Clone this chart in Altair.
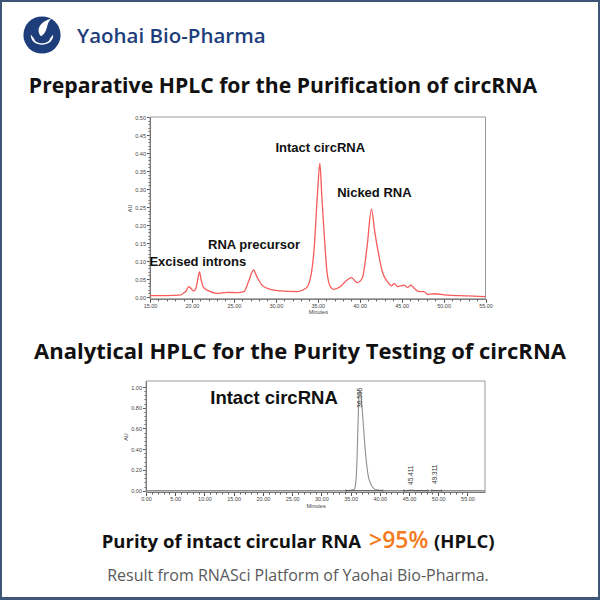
import altair as alt
import pandas as pd

# ---------------- data ----------------
# Preparative HPLC trace (minutes, AU)
prep_minutes = [15.0, 17.0, 18.5, 18.8, 19.0, 19.3, 19.6, 19.8, 20.2, 20.4, 20.65, 20.9, 21.1, 21.4, 22.0,
                23.0, 24.2, 25.4, 26.2, 26.75, 27.35, 27.75, 28.35, 29.35, 30.5, 32.6, 33.6, 34.2, 34.6,
                35.0, 35.25, 35.5, 35.8, 36.1, 36.5, 36.9, 37.7, 38.3, 39.0, 39.7, 40.3, 40.9, 41.4, 41.8,
                42.2, 42.7, 43.3, 43.8, 44.1, 44.5, 45.3, 45.7, 46.1, 46.5, 47.1, 47.7, 48.1, 48.9, 50.1,
                52.9, 55.0]
prep_au = [0.004, 0.004, 0.005, 0.007, 0.011, 0.016, 0.029, 0.026, 0.017, 0.02, 0.043, 0.07, 0.047, 0.026,
           0.017, 0.010, 0.013, 0.012, 0.015, 0.043, 0.075, 0.056, 0.033, 0.021, 0.017, 0.015, 0.024,
           0.061, 0.144, 0.30, 0.371, 0.274, 0.163, 0.07, 0.029, 0.021, 0.029, 0.043, 0.054, 0.040, 0.052,
           0.144, 0.244, 0.181, 0.126, 0.07, 0.043, 0.031, 0.038, 0.029, 0.033, 0.026, 0.033, 0.024,
           0.015, 0.015, 0.007, 0.009, 0.006, 0.003, 0.001]

prep_labels = ["Intact circRNA", "Nicked RNA", "RNA precursor", "Excised introns"]
prep_label_min = [35.3, 41.75, 27.4, 20.7]
prep_label_au = [0.414, 0.289, 0.144, 0.097]

# Analytical HPLC trace
ana_minutes = [0, 10, 20, 30, 34.5, 35.6, 35.9, 36.1, 36.3, 36.45, 36.555, 36.7, 36.9, 37.1, 37.4, 37.7,
               38.0, 38.4, 38.9, 39.5, 40.5, 44.5, 45.411, 46.2, 48.8, 49.311, 49.9, 52, 58]
ana_au = [0, 0, 0, 0, 0, 0.01, 0.08, 0.3, 0.7, 0.92, 0.97, 0.95, 0.85, 0.7, 0.47, 0.28, 0.15, 0.07,
          0.025, 0.008, 0, 0, 0.006, 0, 0, 0.004, 0, 0, 0]

peak_names = ["36.555", "45.411", "49.311"]
peak_min = [36.555, 45.3, 49.4]
peak_label_au = [0.80, 0.055, 0.065]

baseline_start = [34.2, 44.1, 48.9]
baseline_end = [40.5, 48.2, 50.6]

X1_DOMAIN = [15, 55]
Y1_DOMAIN = [-0.005, 0.5]
X2_DOMAIN = [0, 58]
Y2_DOMAIN = [-0.013, 1.058]

prep_ticks_x = list(range(15, 56))
prep_ticks_y = [round(i * 0.01, 2) for i in range(0, 51)]
ana_ticks_x = list(range(0, 56))
ana_ticks_y = [round(i * 0.04, 2) for i in range(0, 26)]

# ---------------- helpers ----------------
AXIS_GREY = "#555555"
LBL = dict(labelFont="Liberation Sans", labelFontSize=5.5, labelColor="#444444",
           titleFont="Liberation Sans", titleFontSize=5.5, titleFontWeight="normal",
           titleColor="#444444", domainColor=AXIS_GREY, tickColor=AXIS_GREY,
           grid=False, labelOverlap=False, labelFlush=False)


def x_axis(values, offset):
    return alt.Axis(values=values, orient="bottom", offset=offset, title="Minutes",
                    labelExpr="datum.value % 5 === 0 ? format(datum.value, '.2f') : ''",
                    tickSize={"condition": {"test": "datum.value % 5 === 0", "value": 3.5}, "value": 2},
                    labelPadding=1, titlePadding=1, **LBL)


def y_axis(values, offset, every):
    return alt.Axis(values=values, orient="left", offset=offset, title="AU",
                    labelExpr=f"round(datum.value*100) % {every} === 0 ? format(datum.value, '.2f') : ''",
                    tickSize={"condition": {"test": f"round(datum.value*100) % {every} === 0", "value": 3.5},
                              "value": 2},
                    labelPadding=1, titlePadding=2, **LBL)


def txt(s, x, y, size, color="#111111", weight="bold", font="Open Sans", align="center", **kw):
    return alt.Chart(pd.DataFrame({"s": [s]})).mark_text(
        x=x, y=y, fontSize=size, color=color, fontWeight=weight, font=font, align=align,
        baseline="middle", **kw).encode(text="s:N")


# ---------------- chart 1 (preparative) ----------------
x1s = alt.Scale(domain=X1_DOMAIN, range=[150, 485.5], nice=False, zero=False)
y1s = alt.Scale(domain=Y1_DOMAIN, range=[298.8, 117], nice=False, zero=False)
ax1x = x_axis(prep_ticks_x, 298.8 - 600)
ax1y = y_axis(prep_ticks_y, -150, 5)

prep_df = pd.DataFrame({"m": prep_minutes, "au": prep_au})
frame1_df = pd.DataFrame({"x0": [X1_DOMAIN[0]], "x1": [X1_DOMAIN[1]], "y0": [Y1_DOMAIN[0]], "y1": [Y1_DOMAIN[1]]})
lab1_df = pd.DataFrame({"m": prep_label_min, "au": prep_label_au, "name": prep_labels})

frame1 = alt.Chart(frame1_df).mark_rect(fill=None, stroke="#9a9a9a", strokeWidth=1).encode(
    x=alt.X("x0:Q", scale=x1s, axis=ax1x), x2="x1:Q",
    y=alt.Y("y0:Q", scale=y1s, axis=ax1y), y2="y1:Q")
line1 = alt.Chart(prep_df).mark_line(color="#f75b5b", strokeWidth=1.3, interpolate="monotone").encode(
    x=alt.X("m:Q", scale=x1s, axis=ax1x), y=alt.Y("au:Q", scale=y1s, axis=ax1y))
labels1 = alt.Chart(lab1_df).mark_text(font="Liberation Sans", fontWeight="bold", fontSize=13,
                                       color="#111111").encode(
    x=alt.X("m:Q", scale=x1s, axis=ax1x), y=alt.Y("au:Q", scale=y1s, axis=ax1y), text="name:N")
c1 = alt.layer(frame1, line1, labels1)

# ---------------- chart 2 (analytical) ----------------
x2s = alt.Scale(domain=X2_DOMAIN, range=[146, 485], nice=False, zero=False)
y2s = alt.Scale(domain=Y2_DOMAIN, range=[492, 381], nice=False, zero=False)
ax2x = x_axis(ana_ticks_x, 492 - 600)
ax2y = y_axis(ana_ticks_y, -146, 20)

ana_df = pd.DataFrame({"m": ana_minutes, "au": ana_au})
frame2_df = pd.DataFrame({"x0": [X2_DOMAIN[0]], "x1": [X2_DOMAIN[1]], "y0": [Y2_DOMAIN[0]], "y1": [Y2_DOMAIN[1]]})
peaks_df = pd.DataFrame({"m": peak_min, "au": peak_label_au, "name": peak_names})
base_df = pd.DataFrame({"s": baseline_start, "e": baseline_end, "au": [0.0] * 3})
base_pts = pd.DataFrame({"m": baseline_start + baseline_end, "au": [0.0] * 6})
main_lab = pd.DataFrame({"m": [21.9], "au": [0.894], "name": ["Intact circRNA"]})

frame2 = alt.Chart(frame2_df).mark_rect(fill=None, stroke="#9a9a9a", strokeWidth=1).encode(
    x=alt.X("x0:Q", scale=x2s, axis=ax2x), x2="x1:Q",
    y=alt.Y("y0:Q", scale=y2s, axis=ax2y), y2="y1:Q")
line2 = alt.Chart(ana_df).mark_line(color="#8f8f8f", strokeWidth=1.1, interpolate="monotone").encode(
    x=alt.X("m:Q", scale=x2s, axis=ax2x), y=alt.Y("au:Q", scale=y2s, axis=ax2y))
base2 = alt.Chart(base_df).mark_rule(color="#555555", strokeWidth=1).encode(
    x=alt.X("s:Q", scale=x2s, axis=ax2x), x2="e:Q", y=alt.Y("au:Q", scale=y2s, axis=ax2y))
basepts = alt.Chart(base_pts).mark_tick(color="#555555", size=3, thickness=1, orient="vertical").encode(
    x=alt.X("m:Q", scale=x2s, axis=ax2x), y=alt.Y("au:Q", scale=y2s, axis=ax2y))
peaklab = alt.Chart(peaks_df).mark_text(font="Liberation Sans", fontSize=6.5, color="#333333",
                                        angle=270, align="left", baseline="middle").encode(
    x=alt.X("m:Q", scale=x2s, axis=ax2x), y=alt.Y("au:Q", scale=y2s, axis=ax2y), text="name:N")
mainlab = alt.Chart(main_lab).mark_text(font="Liberation Sans", fontWeight="bold", fontSize=18.5,
                                        color="#111111").encode(
    x=alt.X("m:Q", scale=x2s, axis=ax2x), y=alt.Y("au:Q", scale=y2s, axis=ax2y), text="name:N")
c2 = alt.layer(frame2, line2, base2, basepts, peaklab, mainlab)

# ---------------- header / texts ----------------
NAVY = "#1d3e7b"
logo_df = pd.DataFrame({"k": [0]})
logo_circle = alt.Chart(logo_df).mark_circle(x=42, y=35, size=1385, color=NAVY, opacity=1)
logo_hands = alt.Chart(logo_df).mark_point(
    x=42, y=38, size=1150, filled=True, color="white", opacity=1,
    shape="M -0.66 -0.2 C -0.7 0.6 0.7 0.6 0.66 -0.2 L 0.46 0.05 C 0.42 0.4 -0.42 0.4 -0.46 0.05 Z")
logo_leaf = alt.Chart(logo_df).mark_point(
    x=44, y=30, size=800, filled=True, color="white", opacity=1,
    shape="M -0.2 0.45 C -0.6 0.0 -0.3 -0.6 0.5 -0.8 C 0.1 -0.4 0.35 0.05 -0.2 0.45 Z")

brand = txt("Yaohai Bio-Pharma", 77, 37, 20.5, color=NAVY, weight=600, align="left")
title1 = txt("Preparative HPLC for the Purification of circRNA", 283, 87, 21.2)
title2 = txt("Analytical HPLC for the Purity Testing of circRNA", 300, 352, 22)
purity_a = txt("Purity of intact circular RNA", 361, 542, 18.5, align="right")
purity_b = txt(">95%", 369, 541, 23, color="#f47b20", weight=600, align="left")
purity_c = txt("(HPLC)", 434, 542, 18.5, align="left")
footer = txt("Result from RNASci Platform of Yaohai Bio-Pharma.", 298, 576, 16, color="#5a5a5a",
             weight="normal")
bottom_edge = alt.Chart(logo_df).mark_rule(color="#3f5677", strokeWidth=3).encode(
    x=alt.value(0), x2=alt.value(600), y=alt.value(598.5))

chart = alt.layer(
    c1, c2, logo_circle, logo_hands, logo_leaf, brand, title1, title2,
    purity_a, purity_b, purity_c, footer, bottom_edge
).resolve_scale(x="independent", y="independent").properties(
    width=600, height=600, padding=0, autosize="none", background="white"
).configure_view(stroke="#3f5677", strokeWidth=4)

chart.save("out.html", embed_options={"renderer": "svg", "actions": False})
